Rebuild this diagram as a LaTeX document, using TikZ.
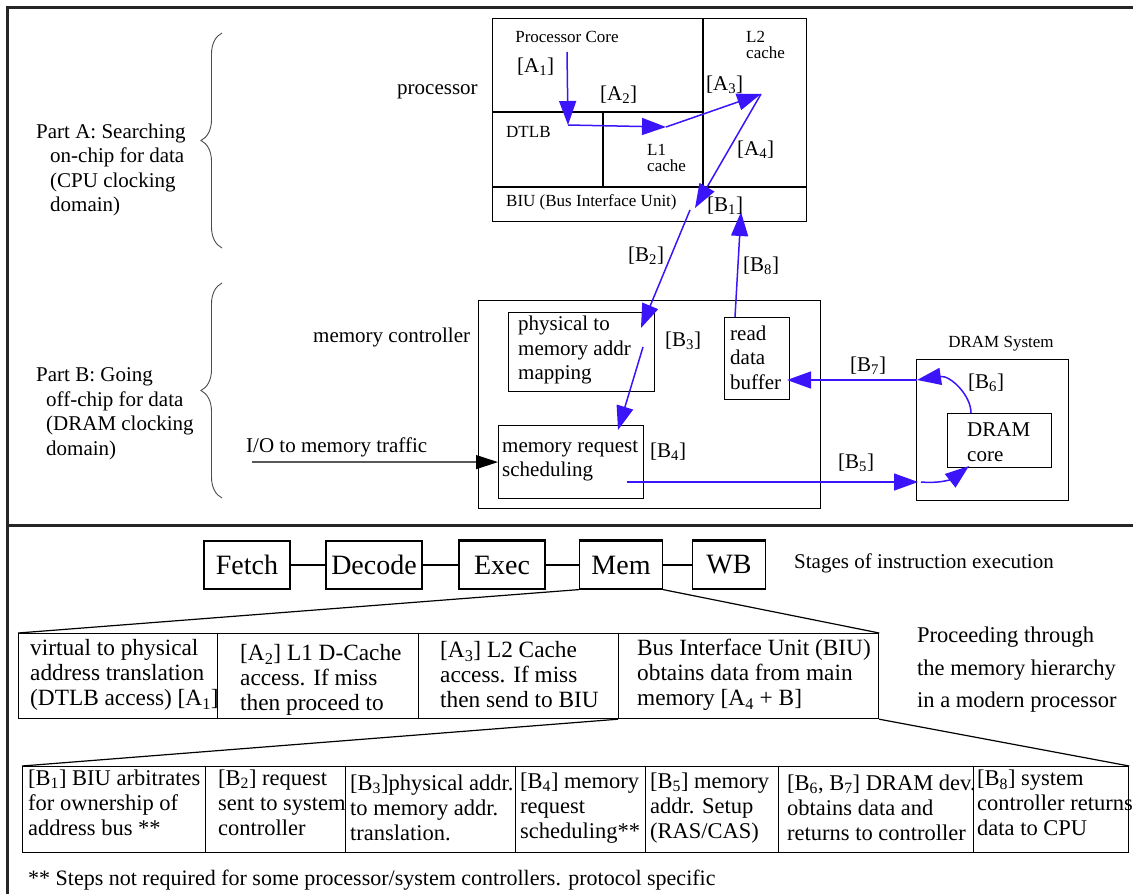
\documentclass[tikz,border=0pt]{standalone}
\usepackage{fontspec}
\setmainfont{Liberation Serif}
\usetikzlibrary{arrows.meta,decorations.pathreplacing}

\definecolor{flowblue}{RGB}{60,20,250}
\newcommand{\stp}[2]{[#1\textsubscript{#2}]}

\tikzset{
  box/.style={draw,line width=1.2pt,anchor=north west,inner sep=0pt},
  body/.style={font=\fontsize{21}{24.5}\selectfont,inner sep=0pt,align=left,anchor=west},
  small/.style={font=\fontsize{17}{16.5}\selectfont,inner sep=0pt,align=left,anchor=west},
  tab/.style={font=\fontsize{22.5}{25}\selectfont,inner sep=0pt,align=left,anchor=west},
  stage/.style={draw,line width=1.2pt,font=\fontsize{28}{30}\selectfont,minimum height=48pt,inner sep=0pt},
  flow/.style={flowblue,line width=1.5pt,-{Triangle[length=24pt,width=17pt]}},
  curly/.style={black!70,line width=0.9pt,decorate,decoration={brace,amplitude=21pt}}
}

\begin{document}
\begin{tikzpicture}[x=1pt,y=-1pt]
\useasboundingbox (0,0) rectangle (1133,894);
% frame
\draw[line width=3pt,black!85] (7,894) -- (7,7) -- (1133,7);
\draw[line width=3pt,black!85] (7,525) -- (1133,525);

% the two parts
\draw[curly] (222,248) -- (222,33);
\draw[curly] (222,498) -- (222,283);
\node[body] (partA) at (36,170) {Part A: Searching\\\hspace*{14pt}on-chip for data\\\hspace*{14pt}(CPU clocking\\\hspace*{14pt}domain)};
\node[body] (partB) at (36,414) {Part B: Going\\\hspace*{10pt}off-chip for data\\\hspace*{10pt}(DRAM clocking\\\hspace*{10pt}domain)};

% processor
\node[box,minimum width=314pt,minimum height=203pt] (proc) at (492,18) {};
\draw[line width=1.2pt] (703,18) -- (703,187) (492,112) -- (703,112)
  (603,112) -- (603,187) (492,187) -- (806,187);
\node[body] (proclbl) at (397,92) {processor};
\node[small,anchor=center] (core) at (567,37) {Processor Core};
\node[small] (l2) at (746,45) {L2\\cache};
\node[small] (dtlb) at (506,132) {DTLB};
\node[small] (l1) at (647,158) {L1\\cache};
\node[small] (biu) at (506,202) {BIU (Bus Interface Unit)};

% memory controller
\node[box,minimum width=342pt,minimum height=208pt] (mc) at (478,300) {};
\node[body] (mclbl) at (313,337) {memory controller};
\node[box,minimum width=146pt,minimum height=79pt] (phys) at (508,312) {};
\node[body] (physt) at (518,350) {physical to\\memory addr\\mapping};
\node[box,minimum width=65pt,minimum height=82pt] (rdb) at (724,317) {};
\node[body] (rdbt) at (730,357.5) {read\\data\\buffer};
\node[box,minimum width=145pt,minimum height=73pt] (sched) at (498,425) {};
\node[body] (schedt) at (502,461) {memory request\\scheduling};
\node[body] (io) at (246,447) {I/O to memory traffic};
\coordinate (iostart) at (252,462);
\draw[line width=1.2pt,-{Triangle[length=22pt,width=14pt]}] (iostart) -- (sched.west);

% DRAM
\node[box,minimum width=152pt,minimum height=141pt] (dsys) at (916,359) {};
\node[small,anchor=center] (dsyslbl) at (1001,344) {DRAM System};
\node[box,minimum width=104pt,minimum height=54pt] (dcore) at (947,413) {};
\node[body] (dcoret) at (967,442) {DRAM\\core};

% path of a load
\coordinate (p0) at (567,52);
\coordinate (p1) at (568,125);
\coordinate (p2) at (666,127);
\coordinate (p3) at (761,94);
\coordinate (p4) at (695,208);
\coordinate (q0) at (690,210);
\coordinate (q1) at (641,328);
\coordinate (q2) at (643,347);
\coordinate (q3) at (618,430);
\coordinate (q4) at (627,482);
\coordinate (q5) at (918,482);
\coordinate (q6) at (921,482);
\coordinate (q7) at (969,466);
\coordinate (q8) at (971,413);
\coordinate (q9) at (917,380);
\coordinate (q10) at (787,380);
\coordinate (q11) at (735,317);
\coordinate (q12) at (741,212);
\foreach \a/\b in {p0/p1,p1/p2,p2/p3,p3/p4,q0/q1,q2/q3,q4/q5,q9/q10,q11/q12}
  \draw[flow] (\a) -- (\b);
\draw[flow] (q6) .. controls (945,484) and (955,477) .. (q7);
\draw[flow] (q8) .. controls (971,395) and (950,375) .. (q9);

\foreach \n/\l/\i/\x/\y in {la1/A/1/517/67, la2/A/2/600/95, la3/A/3/706/85, la4/A/4/737/150,
    lb1/B/1/707/206, lb2/B/2/628/256, lb3/B/3/665/341, lb4/B/4/650/452,
    lb5/B/5/838/463, lb6/B/6/968/383, lb7/B/7/850/366, lb8/B/8/743/266}
  \node[body] (\n) at (\x,\y) {\stp{\l}{\i}};

% pipeline
\foreach \n/\x/\w/\t in {fetch/247/86/Fetch, decode/374/96/Decode, exec/502/86/Exec, mem/621/83/Mem, wb/729/73/WB}
  \node[stage,minimum width=\w pt] (\n) at (\x,565) {\t};
\foreach \a/\b in {fetch/decode,decode/exec,exec/mem,mem/wb}
  \draw[line width=1.2pt] (\a) -- (\b);
\foreach \n in {exec,mem,wb}
  \draw[line width=3pt] (\n.north west) -- (\n.north east);
\node[body] (stages) at (794,563) {Stages of instruction execution};

% memory stage, first level
\foreach \n/\x/\w in {t1/18/199, t2/217/201, t3/418/200, t4/618/260}
  \node[box,minimum width=\w pt,minimum height=85pt] (\n) at (\x,633) {};
\node[tab,font=\fontsize{23.3}{25}\selectfont] (t1t) at (30,675) {virtual to physical\\address translation\\(DTLB access) \stp{A}{1}};
\node[tab,font=\fontsize{23.3}{25}\selectfont] (t2t) at (240,680) {\stp{A}{2} L1 D-Cache\\access. If miss\\then proceed to};
\node[tab,font=\fontsize{23.3}{25}\selectfont] (t3t) at (440,675) {\stp{A}{3} L2 Cache\\access. If miss\\then send to BIU};
\node[tab,font=\fontsize{23.3}{25}\selectfont] (t4t) at (637,675) {Bus Interface Unit (BIU)\\obtains data from main\\memory [A\textsubscript{4} + B]};
\node[tab,font=\fontsize{22.5}{32.5}\selectfont] (proceed) at (917,670) {Proceeding through\\the memory hierarchy\\in a modern processor};
\draw[line width=1.2pt] (mem.south west) -- (t1.north west);
\draw[line width=1.2pt] (mem.south east) -- (t4.north east);

% memory stage, second level
\foreach \n/\x/\w in {d1/22/183, d2/205/140, d3/345/170, d4/515/130, d5/645/133, d6/778/195, d7/973/155}
  \node[box,minimum width=\w pt,minimum height=86pt] (\n) at (\x,766) {};
\node[tab] (d1t) at (28,803) {\stp{B}{1} BIU arbitrates\\for ownership of\\address bus **};
\node[tab] (d2t) at (218,803) {\stp{B}{2} request\\sent to system\\controller};
\node[tab] (d3t) at (350,808) {\stp{B}{3}physical addr.\\to memory addr.\\translation.};
\node[tab] (d4t) at (520,808) {\stp{B}{4} memory\\request\\scheduling**};
\node[tab] (d5t) at (650,808) {\stp{B}{5} memory\\addr. Setup\\(RAS/CAS)};
\node[tab] (d6t) at (787,808) {[B\textsubscript{6}, B\textsubscript{7}] DRAM dev.\\obtains data and\\returns to controller};
\node[tab] (d7t) at (977,803) {\stp{B}{8} system\\controller returns\\data to CPU};
\draw[line width=1.2pt] (t4.south west) -- (d1.north west);
\draw[line width=1.2pt] (t4.south east) -- (d7.north east);

\node[tab,font=\fontsize{22}{25}\selectfont] (note) at (28,880) {** Steps not required for some processor/system controllers. protocol specific};
\end{tikzpicture}
\end{document}
